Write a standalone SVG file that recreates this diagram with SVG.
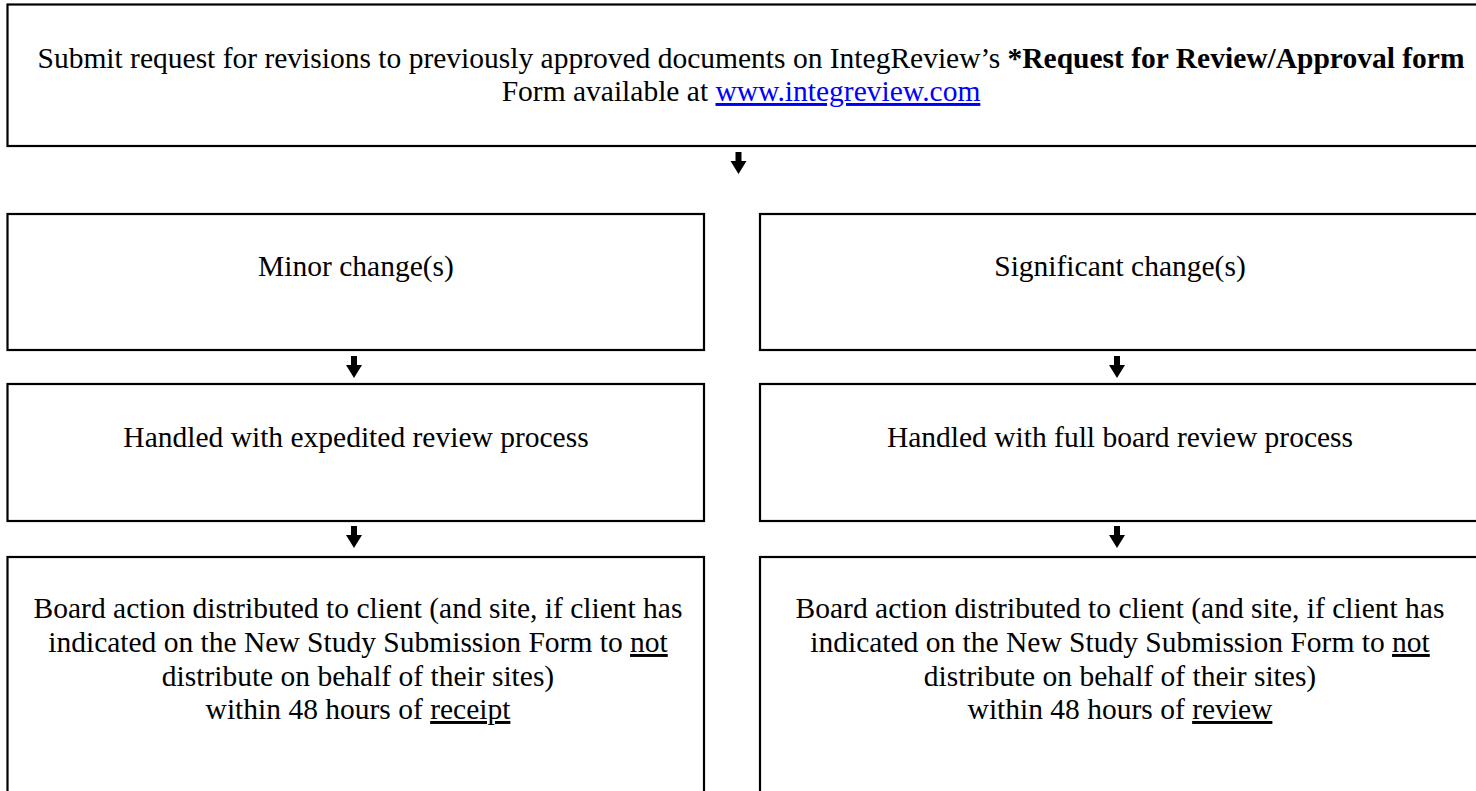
<svg xmlns="http://www.w3.org/2000/svg" width="1476" height="791" viewBox="0 0 1476 791">
<defs>
<style>
.box{fill:#fff;stroke:#000;stroke-width:2.2}
.t{font-family:"Liberation Serif","Times New Roman",serif;font-size:29.5px;fill:#000;text-anchor:middle}
.b{font-weight:bold}
.u{text-decoration:underline}
.link{fill:#0000ff;text-decoration:underline}
.arr{fill:#000}
</style>
<path id="arrow" d="M-3,0 h6 v9 h5 l-8,13 l-8,-13 h5 z"/>
</defs>
<rect width="1476" height="791" fill="#fff"/>
<g id="node-submit">
<rect class="box" x="7.5" y="4.5" width="1485" height="141.5"/>
<text class="t" x="751" y="68">Submit request for revisions to previously approved documents on IntegReview’s <tspan class="b">*Request for Review/Approval form</tspan></text>
<text class="t" x="741" y="101">Form available at <tspan class="link">www.integreview.com</tspan></text>
</g>
<g id="node-minor">
<rect class="box" x="7.5" y="214" width="696.5" height="136"/>
<text class="t" x="356" y="276">Minor change(s)</text>
</g>
<g id="node-significant">
<rect class="box" x="760" y="214" width="725" height="136"/>
<text class="t" x="1120" y="276">Significant change(s)</text>
</g>
<g id="node-expedited">
<rect class="box" x="7.5" y="384" width="696.5" height="137"/>
<text class="t" x="356" y="447">Handled with expedited review process</text>
</g>
<g id="node-fullboard">
<rect class="box" x="760" y="384" width="725" height="137"/>
<text class="t" x="1120" y="447">Handled with full board review process</text>
</g>
<g id="node-action-minor">
<rect class="box" x="7.5" y="557" width="696.5" height="260"/>
<text class="t" x="358" y="618">Board action distributed to client (and site, if client has</text>
<text class="t" x="358" y="652">indicated on the New Study Submission Form to <tspan class="u">not</tspan></text>
<text class="t" x="358" y="685.5">distribute on behalf of their sites)</text>
<text class="t" x="358" y="719">within 48 hours of <tspan class="u">receipt</tspan></text>
</g>
<g id="node-action-significant">
<rect class="box" x="760" y="557" width="725" height="260"/>
<text class="t" x="1120" y="618">Board action distributed to client (and site, if client has</text>
<text class="t" x="1120" y="652">indicated on the New Study Submission Form to <tspan class="u">not</tspan></text>
<text class="t" x="1120" y="685.5">distribute on behalf of their sites)</text>
<text class="t" x="1120" y="719">within 48 hours of <tspan class="u">review</tspan></text>
</g>
<g id="connectors" class="arr">
<use href="#arrow" x="738.5" y="152"/>
<use href="#arrow" x="354" y="356"/>
<use href="#arrow" x="1117" y="356"/>
<use href="#arrow" x="354" y="526"/>
<use href="#arrow" x="1117" y="526"/>
</g>
</svg>
